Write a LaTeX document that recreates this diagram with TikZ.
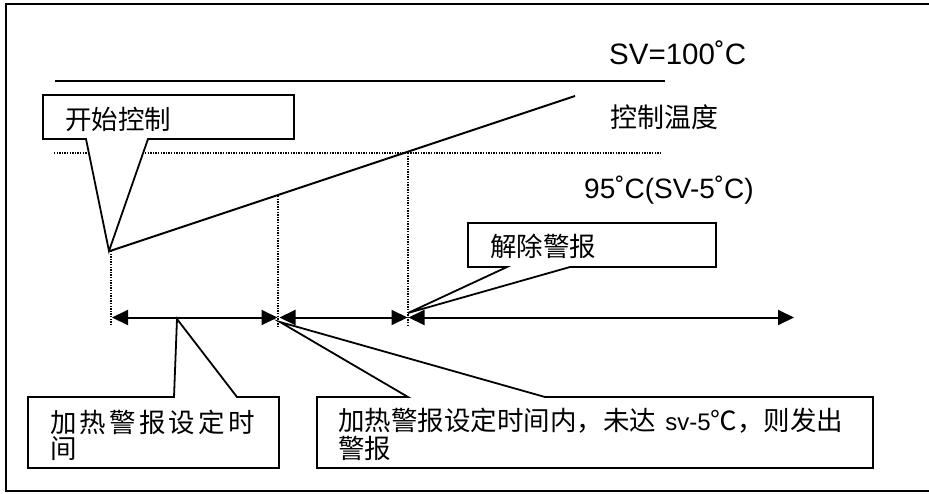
\documentclass[tikz,border=0pt]{standalone}
\usepackage{fontspec}
\setmainfont{Liberation Sans}
\newfontfamily\cjk{Noto Sans CJK SC}
\usetikzlibrary{arrows.meta}
\tikzset{
  lat/.style={inner sep=0pt, font=\fontsize{28}{32}\selectfont},
  cn/.style={inner sep=0pt, font=\fontsize{26.5}{30}\cjk},
  dotline/.style={line width=1.3pt, dash pattern=on 1.3pt off 1.3pt},
  solidline/.style={line width=2pt},
  callout/.style={line width=1.8pt, fill=white, line join=miter},
  tl/.style={line width=2pt, {Triangle[length=16pt,width=15pt]}-{Triangle[length=16pt,width=15pt]}}
}
\begin{document}
\begin{tikzpicture}[x=1pt,y=-1pt]
\useasboundingbox (0,0) rectangle (929,493);
% frame
\draw[line width=2pt] (935,4) -- (6,4) -- (6,491) -- (935,491);
% key coordinates
\coordinate (svL) at (55,81);
\coordinate (svR) at (665,81);
\coordinate (dL) at (54,153);
\coordinate (dR) at (662,153);
\coordinate (r0) at (110,251);
\coordinate (r1) at (575,96);
\coordinate (v1t) at (111,251);
\coordinate (v1b) at (111,325);
\coordinate (v2t) at (278,196);
\coordinate (v2b) at (278,327);
\coordinate (v3t) at (408,153);
\coordinate (v3b) at (408,326);
\coordinate (a1) at (112,317.5);
\coordinate (a2) at (277.5,317.5);
\coordinate (a3) at (279.5,317.5);
\coordinate (a4) at (407.5,317.5);
\coordinate (a5) at (408.5,317.5);
\coordinate (a6) at (794,317.5);
% SV line and 95 dotted line
\draw[solidline] (svL) -- (svR);
\draw[dotline] (dL) -- (dR);
% ramp
\draw[solidline] (r0) -- (r1);
% vertical dotted lines
\draw[dotline] (v1t) -- (v1b);
\draw[dotline] (v2t) -- (v2b);
\draw[dotline] (v3t) -- (v3b);
% time arrows
\draw[tl] (a1) -- (a2);
\draw[tl] (a3) -- (a4);
\draw[tl] (a5) -- (a6);
% callout: start control
\draw[callout] (43,95) -- (294,95) -- (294,139) -- (148,139) -- (109,251) -- (86,139) -- (43,139) -- cycle;
\node[cn, anchor=west] (start) at (65,119) {开始控制};
% callout: release alarm
\draw[callout] (468,223) -- (716,223) -- (716,267) -- (570,267) -- (408,313) -- (507,267) -- (468,267) -- cycle;
\node[cn, anchor=west] (rel) at (490,246) {解除警报};
% callout: heating alarm time
\draw[callout] (28,397) -- (174,397) -- (177,319) -- (237,397) -- (279,397) -- (279,468) -- (28,468) -- cycle;
\node[cn, anchor=west] (hl1) at (50,422.5) {加\hspace{3.2pt}热\hspace{3.2pt}警\hspace{3.2pt}报\hspace{3.2pt}设\hspace{3.2pt}定\hspace{3.2pt}时};
\node[cn, anchor=west] (hl2) at (50,449) {间};
% callout: alarm condition
\draw[callout] (317,397) -- (408,397) -- (280,322) -- (545,397) -- (873,397) -- (873,468) -- (317,468) -- cycle;
\node[cn, anchor=west] (hr1) at (338,421) {加热警报设定时间内，未达\hspace{0.35em}{\fontsize{24}{28}\rmfamily sv-5}℃，则发出};
\node[cn, anchor=west] (hr2) at (338,448) {警报};
% labels
\node[lat, anchor=base west, font=\fontsize{29.5}{32}\selectfont] (sv) at (609,64) {SV=100˚C};
\node[cn, anchor=west, font=\fontsize{27}{30}\cjk] (ctl) at (610,117.5) {控制温度};
\node[lat, anchor=base west] (t95) at (584,198) {95˚C(SV-5˚C)};
\end{tikzpicture}
\end{document}
